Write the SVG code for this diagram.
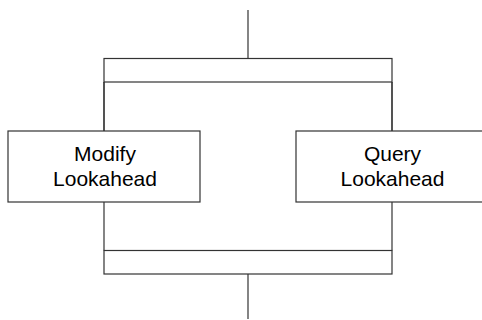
<svg xmlns="http://www.w3.org/2000/svg" width="482" height="320" viewBox="0 0 482 320">
<style>
.s{fill:#fff;stroke:#333;stroke-width:1.2}
.l{fill:none;stroke:#333;stroke-width:1.2}
.t{font-family:"Liberation Sans",Arial,sans-serif;font-size:21px;fill:#000;text-anchor:middle}
</style>
<rect width="482" height="320" fill="#fff"/>
<g id="connectors">
<line class="l" x1="248" y1="10" x2="248" y2="58.5"/>
<line class="l" x1="104" y1="82" x2="104" y2="131"/>
<line class="l" x1="392" y1="82" x2="392" y2="131"/>
<line class="l" x1="104" y1="202" x2="104" y2="250.5"/>
<line class="l" x1="392" y1="202" x2="392" y2="250.5"/>
<line class="l" x1="248" y1="274" x2="248" y2="319"/>
</g>
<g id="fork">
<rect class="s" x="104" y="58.5" width="288" height="23.5"/>
<line class="l" x1="104" y1="82" x2="104" y2="131"/>
<line class="l" x1="392" y1="82" x2="392" y2="131"/>
</g>
<g id="join">
<rect class="s" x="104" y="250.5" width="288" height="23.5"/>
</g>
<g id="modify">
<rect class="s" x="8" y="131" width="192" height="71"/>
<text class="t" x="105" y="161">Modify</text>
<text class="t" x="105" y="186">Lookahead</text>
</g>
<g id="query">
<rect class="s" x="296" y="131" width="192" height="71"/>
<text class="t" x="392.5" y="161">Query</text>
<text class="t" x="392.5" y="186">Lookahead</text>
</g>
</svg>
